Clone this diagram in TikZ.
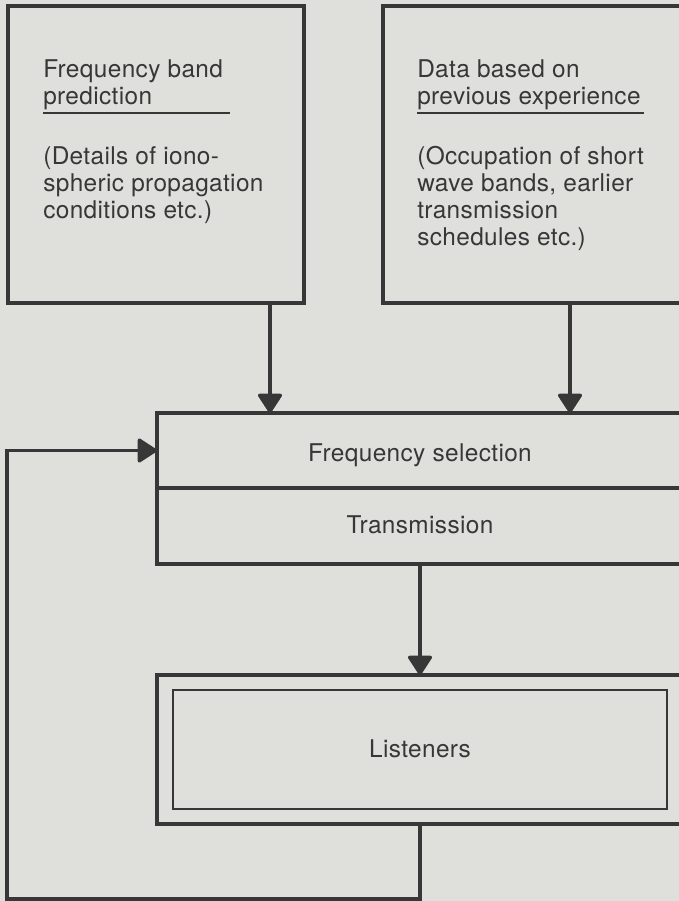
\documentclass[tikz,border=0pt]{standalone}
\usepackage{fontspec}
\setmainfont{TeX Gyre Heros}[LetterSpace=1.5]
\usetikzlibrary{arrows.meta,fit}
\definecolor{bg}{RGB}{223,223,220}
\definecolor{ink}{RGB}{55,55,55}
\begin{document}
\begin{tikzpicture}[x=0.75pt,y=-0.75pt,
  box/.style={draw=ink,line width=2.4pt,inner sep=0pt,outer sep=0pt},
  thinbox/.style={draw=ink,line width=2.1pt,inner sep=0pt,outer sep=0pt},
  conn/.style={draw=ink,line width=2.4pt},
  arr/.style={conn,-{Triangle[length=15.5pt,width=19.5pt,round]}},
  lbl/.style={inner sep=0pt,anchor=base west,text=ink,font=\fontsize{18.3pt}{20.25pt}\selectfont},
  clbl/.style={inner sep=0pt,anchor=base,text=ink,font=\fontsize{18.3pt}{20.25pt}\selectfont},
  uline/.style={draw=ink,line width=1.7pt}]
\useasboundingbox (0,0) rectangle (679,901);
\fill[bg] (0,0) rectangle (679,901);
\clip (0,0) rectangle (679,901);

% boxes
\node[box,fit={(8,6) (304,303)}] (pred) {};
\node[box,fit={(383,6) (695,303)}] (data) {};
\node[box,fit={(157,413) (683,488)}] (sel) {};
\node[box,fit={(157,488) (683,564)}] (trans) {};
\node[box,fit={(157,675) (683,824)}] (outer) {};
\node[thinbox,fit={(173,690) (667,809)}] (inner) {};

% texts left box
\node[lbl] (p1) at (43,77) {Frequency band};
\node[lbl] (p2) at (43,104) {prediction};
\draw[uline] (43,113) -- (230,113);
\node[lbl] (p3) at (43,164) {(Details of iono-};
\node[lbl] (p4) at (43,191) {spheric propagation};
\node[lbl] (p5) at (43,218) {conditions etc.)};

% texts right box
\node[lbl] (d1) at (417,77) {Data based on};
\node[lbl] (d2) at (417,104) {previous experience};
\draw[uline] (417,113) -- (644,113);
\node[lbl] (d3) at (417,164) {(Occupation of short};
\node[lbl] (d4) at (417,191) {wave bands, earlier};
\node[lbl] (d5) at (417,218) {transmission};
\node[lbl] (d6) at (417,245) {schedules etc.)};

% centred texts
\node[clbl] (tsel) at (420,461) {Frequency selection};
\node[clbl] (ttr) at (420,533) {Transmission};
\node[clbl] (tli) at (420,757) {Listeners};

% connector helpers
\coordinate (xa) at (270,0);
\coordinate (xb) at (570,0);
\coordinate (xc) at (420,0);
\coordinate (fb) at (7,899);

\draw[arr] (xa |- pred.south) -- (xa |- sel.north);
\draw[arr] (xb |- data.south) -- (xb |- sel.north);
\draw[arr] (xc |- trans.south) -- (xc |- outer.north);
\draw[arr] (xc |- outer.south) -- (xc |- fb) -- (fb) -- (fb |- sel.west) -- (sel.west);
\end{tikzpicture}
\end{document}
